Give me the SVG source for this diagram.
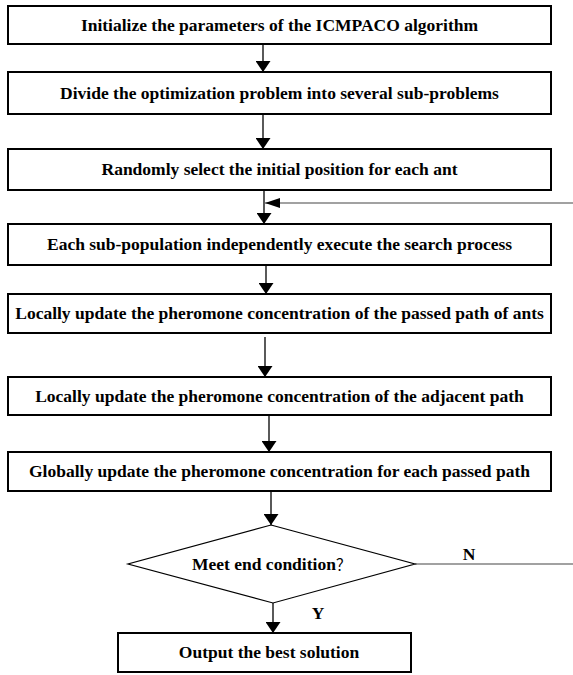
<svg xmlns="http://www.w3.org/2000/svg" width="573" height="675" viewBox="0 0 573 675">
<defs>
<style>
.box{fill:#fff;stroke:#000;stroke-width:2}
.t{font-family:'Liberation Serif','Times New Roman','DejaVu Serif',serif;font-weight:700;font-size:17.5px;fill:#000;text-anchor:middle}
.c{fill:none;stroke:#000;stroke-width:1.3}
.f{fill:none;stroke:#444;stroke-width:1.1}
</style>
<marker id="ah" viewBox="0 0 11 15" refX="11" refY="7.5" markerWidth="11" markerHeight="15" markerUnits="userSpaceOnUse" orient="auto">
<path d="M0,0 L11,7.5 L0,15 Z" fill="#000"/>
</marker>
<marker id="ahs" viewBox="0 0 15 10" refX="15" refY="5" markerWidth="15" markerHeight="10" markerUnits="userSpaceOnUse" orient="auto">
<path d="M0,0 L15,5 L0,10 Z" fill="#000"/>
</marker>
</defs>
<rect width="573" height="675" fill="#fff"/>
<g id="connectors">
<line class="c" x1="263" y1="44" x2="263" y2="72" marker-end="url(#ah)"/>
<line class="c" x1="263" y1="114" x2="263" y2="149" marker-end="url(#ah)"/>
<line class="c" x1="264" y1="190" x2="264" y2="224" marker-end="url(#ah)"/>
<line class="f" x1="573" y1="203" x2="265" y2="203" marker-end="url(#ahs)"/>
<line class="c" x1="266" y1="265" x2="266" y2="294" marker-end="url(#ah)"/>
<line class="c" x1="265" y1="337" x2="265" y2="377" marker-end="url(#ah)"/>
<line class="c" x1="269" y1="415" x2="269" y2="452" marker-end="url(#ah)"/>
<polyline class="c" points="268,491 271,491 271,525" marker-end="url(#ah)"/>
<line class="c" x1="273" y1="603" x2="273" y2="633" marker-end="url(#ah)"/>
<line class="f" x1="415" y1="564" x2="573" y2="564"/>
<text class="t" x="469" y="560">N</text>
<text class="t" x="318" y="619">Y</text>
</g>
<g id="n1"><rect class="box" x="8" y="6" width="543" height="38"/><text class="t" x="279.5" y="31">Initialize the parameters of the ICMPACO algorithm</text></g>
<g id="n2"><rect class="box" x="8" y="72" width="543" height="42"/><text class="t" x="279.5" y="99">Divide the optimization problem into several sub-problems</text></g>
<g id="n3"><rect class="box" x="8" y="149" width="543" height="41"/><text class="t" x="279.5" y="175">Randomly select the initial position for each ant</text></g>
<g id="n4"><rect class="box" x="8" y="224" width="543" height="41"/><text class="t" x="279.5" y="250">Each sub-population independently execute the search process</text></g>
<g id="n5"><rect class="box" x="8" y="294" width="543" height="39"/><text class="t" x="279.5" y="319">Locally update the pheromone concentration of the passed path of ants</text></g>
<g id="n6"><rect class="box" x="8" y="377" width="543" height="38"/><text class="t" x="279.5" y="402">Locally update the pheromone concentration of the adjacent path</text></g>
<g id="n7"><rect class="box" x="8" y="452" width="543" height="39"/><text class="t" x="279.5" y="477">Globally update the pheromone concentration for each passed path</text></g>
<g id="n8"><polygon points="271,525 415,564 273,603 128,564" fill="#fff" stroke="#000" stroke-width="1.2"/><text class="t" x="192" y="570" style="text-anchor:start">Meet end condition<tspan font-family="'Noto Sans CJK SC',sans-serif" font-weight="normal" font-size="15">？</tspan></text></g>
<g id="n9"><rect class="box" x="118" y="633" width="293" height="39"/><text class="t" x="269" y="658">Output the best solution</text></g>
</svg>
